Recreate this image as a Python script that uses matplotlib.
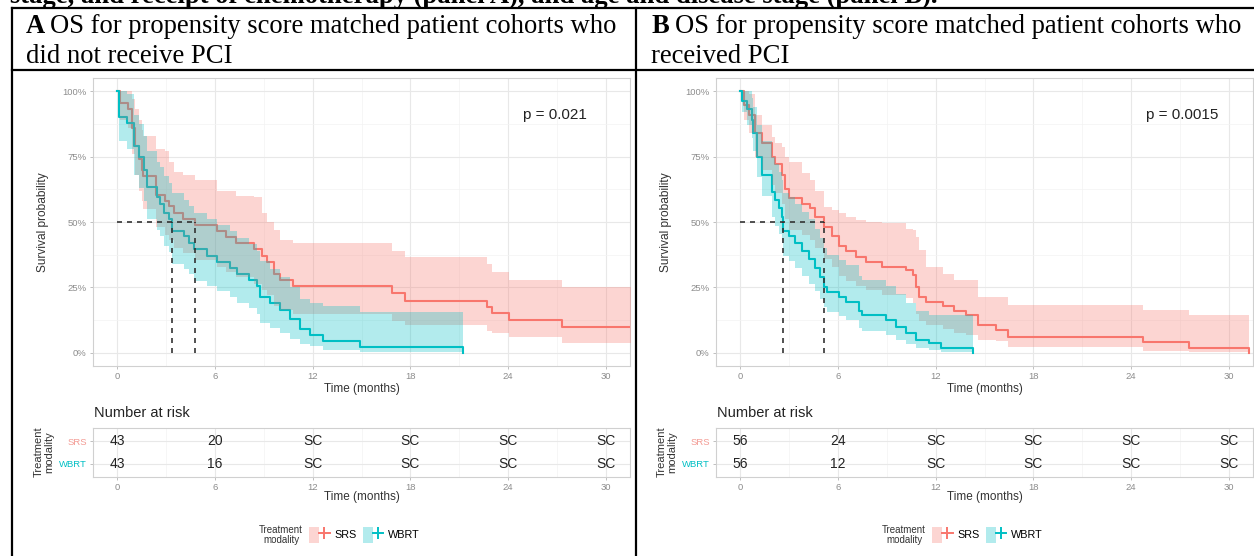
import numpy as np
import matplotlib.pyplot as plt
from matplotlib.lines import Line2D
from matplotlib.patches import Patch
from matplotlib.legend_handler import HandlerTuple

# ---- data (time in months, survival as fraction) ----
risk_times = [0, 6, 12, 18, 24, 30]

# panel A: no PCI
srs_a_t = [0, 0.15, 0.65, 0.9, 1.1, 1.3, 1.5, 1.6, 2.35, 2.9, 3.2, 3.5, 4.0, 4.79, 6.1, 6.7, 7.3, 8.4,
           8.9, 9.2, 9.6, 10.0, 10.8, 16.9, 17.7, 22.7, 23.0, 24.05, 27.3]
srs_a_s = [1.0, 0.953, 0.93, 0.86, 0.79, 0.74, 0.70, 0.674, 0.605, 0.58, 0.56, 0.535, 0.512, 0.488, 0.465,
           0.442, 0.419, 0.395, 0.372, 0.349, 0.302, 0.279, 0.256, 0.229, 0.20, 0.177, 0.151, 0.126, 0.098]
srs_a_hi = [1.0, 1.0, 1.0, 0.97, 0.93, 0.89, 0.85, 0.83, 0.78, 0.77, 0.73, 0.69, 0.68, 0.66, 0.62, 0.62,
            0.60, 0.597, 0.533, 0.50, 0.47, 0.43, 0.42, 0.39, 0.368, 0.34, 0.31, 0.279, 0.252]
srs_a_lo = [1.0, 0.89, 0.86, 0.76, 0.68, 0.62, 0.58, 0.55, 0.48, 0.45, 0.43, 0.40, 0.38, 0.355, 0.33, 0.31,
            0.29, 0.265, 0.24, 0.22, 0.18, 0.165, 0.15, 0.12, 0.107, 0.085, 0.076, 0.062, 0.038]
srs_a_end = 33

wbrt_a_t = [0, 0.08, 0.6, 1.0, 1.31, 1.62, 1.82, 2.43, 2.64, 2.84, 3.15, 3.35, 4.07, 4.38, 4.68, 5.5, 6.1,
            6.93, 7.34, 8.06, 8.57, 8.77, 9.39, 10.0, 10.6, 11.2, 11.84, 12.66, 14.9, 21.25]
wbrt_a_s = [1.0, 0.90, 0.88, 0.79, 0.75, 0.70, 0.635, 0.595, 0.57, 0.535, 0.51, 0.465, 0.445, 0.42, 0.395,
            0.372, 0.349, 0.326, 0.302, 0.279, 0.256, 0.214, 0.19, 0.165, 0.128, 0.093, 0.07, 0.047, 0.023, 0.0]
wbrt_a_hi = [1.0, 1.0, 0.99, 0.91, 0.875, 0.83, 0.77, 0.73, 0.71, 0.675, 0.65, 0.61, 0.585, 0.56, 0.535,
             0.51, 0.49, 0.465, 0.44, 0.415, 0.39, 0.35, 0.32, 0.29, 0.25, 0.205, 0.19, 0.178, 0.158, 0.158]
wbrt_a_lo = [1.0, 0.81, 0.78, 0.68, 0.63, 0.58, 0.51, 0.47, 0.445, 0.41, 0.385, 0.34, 0.32, 0.30, 0.275,
             0.255, 0.235, 0.215, 0.19, 0.17, 0.15, 0.115, 0.095, 0.075, 0.055, 0.035, 0.025, 0.012, 0.004, 0.0]

medians_a = [3.35, 4.79]
p_a = "p = 0.021"
risk_a_srs = ["43", "20", "SC", "SC", "SC", "SC"]
risk_a_wbrt = ["43", "16", "SC", "SC", "SC", "SC"]

# panel B: PCI
srs_b_t = [0, 0.19, 0.5, 0.91, 1.32, 1.94, 2.14, 2.55, 2.76, 2.96, 3.79, 4.3, 4.6, 5.16, 5.64, 6.05, 6.46,
           7.08, 7.7, 8.72, 10.17, 10.58, 10.78, 10.99, 11.4, 12.43, 13.15, 13.87, 14.59, 15.72, 16.44,
           24.77, 27.55, 31.25]
srs_b_s = [1.0, 0.946, 0.91, 0.84, 0.80, 0.75, 0.72, 0.68, 0.625, 0.59, 0.57, 0.553, 0.52, 0.482, 0.446,
           0.41, 0.39, 0.368, 0.349, 0.33, 0.317, 0.298, 0.25, 0.215, 0.196, 0.178, 0.16, 0.143, 0.107,
           0.089, 0.062, 0.043, 0.018, 0.0]
srs_b_hi = [1.0, 1.0, 0.99, 0.91, 0.87, 0.826, 0.80, 0.787, 0.75, 0.73, 0.686, 0.66, 0.62, 0.558, 0.545,
            0.533, 0.52, 0.508, 0.50, 0.496, 0.475, 0.469, 0.444, 0.393, 0.329, 0.30, 0.279, 0.279, 0.215,
            0.215, 0.183, 0.164, 0.145, 0.145]
srs_b_lo = [1.0, 0.89, 0.84, 0.75, 0.70, 0.64, 0.61, 0.57, 0.51, 0.47, 0.45, 0.43, 0.40, 0.36, 0.33, 0.295,
            0.275, 0.255, 0.24, 0.22, 0.21, 0.19, 0.15, 0.12, 0.105, 0.09, 0.075, 0.069, 0.05, 0.045, 0.024,
            0.006, 0.002, 0.0]

wbrt_b_t = [0, 0.08, 0.39, 0.7, 0.8, 1.01, 1.32, 1.94, 2.14, 2.35, 2.55, 2.59, 2.96, 3.37, 3.79, 4.2, 4.61,
            4.92, 5.12, 5.33, 6.05, 6.46, 7.28, 7.49, 8.93, 9.55, 10.17, 10.78, 11.6, 12.33, 14.28]
wbrt_b_s = [1.0, 0.964, 0.93, 0.89, 0.84, 0.75, 0.68, 0.616, 0.584, 0.553, 0.518, 0.464, 0.446, 0.42, 0.39,
            0.357, 0.323, 0.29, 0.253, 0.232, 0.215, 0.196, 0.16, 0.143, 0.125, 0.10, 0.075, 0.05, 0.036,
            0.018, 0.0]
wbrt_b_hi = [1.0, 1.0, 1.0, 0.975, 0.94, 0.87, 0.81, 0.75, 0.72, 0.69, 0.66, 0.61, 0.595, 0.57, 0.54, 0.51,
             0.475, 0.44, 0.40, 0.375, 0.355, 0.335, 0.295, 0.28, 0.255, 0.225, 0.19, 0.16, 0.145, 0.145, 0.145]
wbrt_b_lo = [1.0, 0.92, 0.87, 0.82, 0.77, 0.67, 0.60, 0.52, 0.485, 0.455, 0.42, 0.37, 0.35, 0.325, 0.295,
             0.265, 0.235, 0.205, 0.175, 0.155, 0.14, 0.125, 0.095, 0.085, 0.07, 0.05, 0.033, 0.018, 0.01,
             0.003, 0.0]

medians_b = [2.59, 5.16]
p_b = "p = 0.0015"
risk_b_srs = ["56", "24", "SC", "SC", "SC", "SC"]
risk_b_wbrt = ["56", "12", "SC", "SC", "SC", "SC"]

groups = ["SRS", "WBRT"]
RED, CYAN = "#F8766D", "#00BFC4"

W, H = 1254, 556
plt.rcParams['font.family'] = ['Liberation Sans', 'DejaVu Sans']
fig = plt.figure(figsize=(W / 100, H / 100), dpi=100)


def box(l, t, r, b):
    return [l / W, 1 - b / H, (r - l) / W, (b - t) / H]


def fx(x):
    return x / W


def fy(y):
    return 1 - y / H


def style(ax):
    ax.set_xlim(-1.5, 31.5)
    ax.set_xticks(risk_times)
    ax.set_xticks([3, 9, 15, 21, 27], minor=True)
    for s in ax.spines.values():
        s.set_color('#D0D0D0')
        s.set_linewidth(0.8)
    ax.grid(which='major', color='#E8E8E8', lw=0.8)
    ax.grid(which='minor', color='#F3F3F3', lw=0.5)
    ax.set_axisbelow(True)
    ax.tick_params(which='major', length=2.5, width=0.6, color='#B5B5B5',
                   labelsize=6.8, labelcolor='#8C8C8C', pad=2)
    ax.tick_params(which='minor', length=0)


def km(ax, t, s, lo, hi, col, end=None):
    t = list(t); s = list(s); lo = list(lo); hi = list(hi)
    if end is not None:
        t.append(end); s.append(s[-1]); lo.append(lo[-1]); hi.append(hi[-1])
    ax.step(t, s, where='post', color=col, lw=1.5, zorder=3)
    ax.fill_between(t, lo, hi, step='post', color=col, alpha=0.3, lw=0, zorder=4)


def panel(x0, curves, meds, ptxt, risk_srs, risk_wbrt):
    left, right = x0, x0 + 537
    ax = fig.add_axes(box(left, 78, right, 366))
    style(ax)
    ax.set_ylim(-0.05, 1.05)
    ax.set_yticks([0, 0.25, 0.5, 0.75, 1.0])
    ax.set_yticklabels(['0%', '25%', '50%', '75%', '100%'])
    ax.set_yticks([0.125, 0.375, 0.625, 0.875], minor=True)
    for (t, s, lo, hi, col, end) in curves:
        km(ax, t, s, lo, hi, col, end)
    dash = dict(color='#333333', lw=1.2, ls=(0, (3, 3)), zorder=5)
    ax.plot([0, max(meds)], [0.5, 0.5], **dash)
    for m in meds:
        ax.plot([m, m], [0, 0.5], **dash)
    ax.text(24.9, 0.91, ptxt, ha='left', va='center', fontsize=11, color='#222222')
    mid = (left + right) / 2
    fig.text(fx(mid), fy(389), 'Time (months)', ha='center', va='center', fontsize=8.5, color='#333333')
    fig.text(fx(left - 50), fy(222), 'Survival probability', rotation=90, ha='center', va='center',
             fontsize=8.6, color='#333333')

    # risk table
    rt = fig.add_axes(box(left, 428, right, 477))
    style(rt)
    rt.set_ylim(0.4, 2.6)
    rt.set_yticks([1, 2])
    rt.set_yticklabels(['WBRT', 'SRS'])
    rt.get_yticklabels()[0].set_color(CYAN)
    rt.get_yticklabels()[1].set_color('#F39A93')
    for tm, a, b in zip(risk_times, risk_srs, risk_wbrt):
        rt.text(tm, 2, a, ha='center', va='center', fontsize=10, color='#222222')
        rt.text(tm, 1, b, ha='center', va='center', fontsize=10, color='#222222')
    fig.text(fx(left + 1), fy(413), 'Number at risk', ha='left', va='center', fontsize=10.5, color='#222222')
    fig.text(fx(left - 49), fy(452), 'Treatment\nmodality', rotation=90, ha='center', va='center',
             fontsize=8, color='#333333', linespacing=0.95)
    fig.text(fx(mid), fy(497), 'Time (months)', ha='center', va='center', fontsize=8.5, color='#333333')

    # legend
    fig.text(fx(left + 188), fy(535), 'Treatment\nmodality', ha='center', va='center',
             fontsize=7, color='#333333', linespacing=0.95)
    handles = []
    for col in (RED, CYAN):
        handles.append((Patch(facecolor=col, alpha=0.3, edgecolor='none'),
                        Line2D([], [], color=col, lw=1.4, marker='|', markersize=8, mew=1.4)))
    fig.legend(handles, groups, handler_map={tuple: HandlerTuple(ndivide=None)}, ncol=2,
               loc='center left', bbox_to_anchor=(fx(left + 216), fy(535)), frameon=False,
               fontsize=7.8, handlelength=1.9, handleheight=1.9, handletextpad=0.45,
               columnspacing=0.55, borderpad=0, borderaxespad=0)


panel(93, [(srs_a_t, srs_a_s, srs_a_lo, srs_a_hi, RED, srs_a_end),
           (wbrt_a_t, wbrt_a_s, wbrt_a_lo, wbrt_a_hi, CYAN, None)],
      medians_a, p_a, risk_a_srs, risk_a_wbrt)
panel(716, [(srs_b_t, srs_b_s, srs_b_lo, srs_b_hi, RED, None),
            (wbrt_b_t, wbrt_b_s, wbrt_b_lo, wbrt_b_hi, CYAN, None)],
      medians_b, p_b, risk_b_srs, risk_b_wbrt)

# ---- surrounding document table ----
serif = ['Liberation Serif', 'DejaVu Serif']
fs = 19.2
fig.text(fx(10), fy(3), 'stage, and receipt of chemotherapy (panel A), and age and disease stage (panel B).',
         family=serif, weight='bold', fontsize=fs, va='baseline')
fig.text(fx(26), fy(33), 'A', family=serif, weight='bold', fontsize=fs, va='baseline')
fig.text(fx(50), fy(33), 'OS for propensity score matched patient cohorts who', family=serif,
         fontsize=fs, va='baseline')
fig.text(fx(26), fy(63), 'did not receive PCI', family=serif, fontsize=fs, va='baseline')
fig.text(fx(651), fy(33), 'B', family=serif, weight='bold', fontsize=fs, va='baseline')
fig.text(fx(675), fy(33), 'OS for propensity score matched patient cohorts who', family=serif,
         fontsize=fs, va='baseline')
fig.text(fx(651), fy(63), 'received PCI', family=serif, fontsize=fs, va='baseline')

for xs, ys in [([12, 12], [8, 556]), ([12, W], [8, 8]), ([12, W], [70, 70]), ([636, 636], [8, 556])]:
    fig.add_artist(Line2D([fx(v) for v in xs], [fy(v) for v in ys], color='black', lw=1.6,
                          transform=fig.transFigure))

fig.savefig('out.png', dpi=100)
